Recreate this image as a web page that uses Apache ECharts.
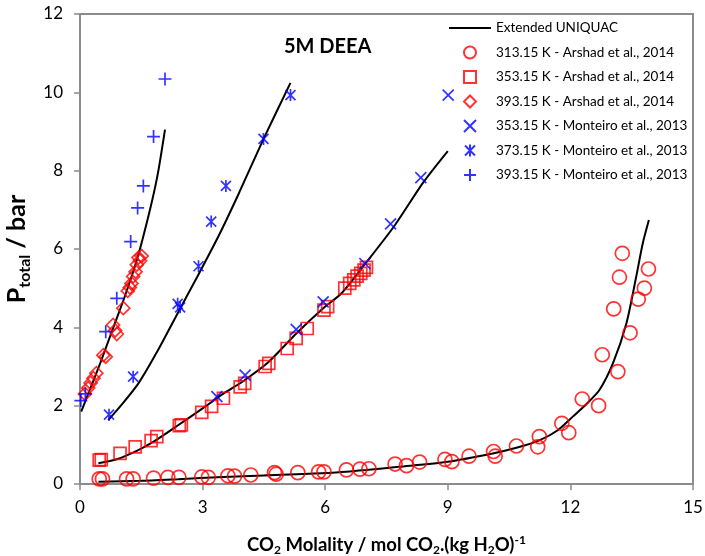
<!DOCTYPE html>
<html>
<head>
<meta charset="utf-8">
<script src="https://cdn.jsdelivr.net/npm/echarts@6/dist/echarts.min.js"></script>
<style>html,body{margin:0;padding:0;background:#fff;}#c{width:705px;height:556px;}</style>
</head>
<body>
<div id="c"></div>
<script>
// ---- Data (x: CO2 molality, y: P total / bar) ----
const xTicks = [0, 3, 6, 9, 12, 15];
const yTicks = [0, 2, 4, 6, 8, 10, 12];

// Extended UNIQUAC model curves
const model313 = [[0.45,0.06],[1.5,0.08],[2.4,0.12],[3.5,0.18],[4.5,0.22],[6.0,0.28],[7.0,0.36],[7.8,0.44],[9.0,0.57],[10.1,0.78],[10.7,0.93],[11.25,1.12],[11.7,1.38],[12.06,1.72],[12.4,2.05],[12.71,2.4],[13.04,3.08],[13.37,4.1],[13.61,5.29],[13.77,6.14],[13.92,6.74]];
const model353 = [[0.45,0.53],[0.9,0.63],[1.4,0.85],[1.8,1.08],[2.4,1.5],[3.0,1.93],[3.5,2.3],[4.0,2.63],[4.6,3.1],[5.3,3.85],[6.0,4.53],[6.4,4.87],[7.0,5.65],[7.7,6.6],[8.4,7.7],[9.0,8.5]];
const model373 = [[0.69,1.63],[1.0,2.0],[1.43,2.57],[1.9,3.4],[2.41,4.4],[2.9,5.35],[3.4,6.35],[3.9,7.45],[4.5,8.83],[5.15,10.24]];
const model393 = [[0.03,1.85],[0.2,2.3],[0.5,3.1],[0.8,3.95],[1.1,4.8],[1.4,5.75],[1.7,6.95],[1.9,7.9],[2.08,9.05]];

// Arshad et al., 2014
const arshad313 = [[0.47,0.13],[0.55,0.13],[1.14,0.13],[1.30,0.13],[1.80,0.15],[2.15,0.17],[2.42,0.17],[2.98,0.18],[3.14,0.17],[3.62,0.21],[3.78,0.20],[4.18,0.23],[4.76,0.29],[4.80,0.25],[5.33,0.29],[5.84,0.31],[5.97,0.31],[6.52,0.36],[6.85,0.38],[7.07,0.39],[7.71,0.51],[7.99,0.47],[8.31,0.56],[8.93,0.63],[9.10,0.57],[9.52,0.71],[10.12,0.83],[10.16,0.71],[10.68,0.97],[11.24,1.21],[11.20,0.95],[11.79,1.55],[11.96,1.31],[12.29,2.17],[12.69,2.00],[12.78,3.30],[13.16,2.87],[13.06,4.47],[13.46,3.86],[13.20,5.28],[13.27,5.89],[13.66,4.72],[13.81,5.00],[13.91,5.49]];
const arshad353 = [[0.47,0.61],[0.52,0.62],[0.98,0.78],[1.35,0.95],[1.74,1.11],[1.88,1.21],[2.43,1.49],[2.48,1.51],[2.98,1.83],[3.22,1.98],[3.51,2.19],[3.92,2.48],[4.03,2.57],[4.53,3.00],[4.62,3.08],[5.07,3.46],[5.29,3.72],[5.56,3.97],[5.97,4.44],[6.06,4.53],[6.48,5.00],[6.60,5.12],[6.70,5.21],[6.78,5.31],[6.87,5.38],[6.95,5.46],[7.01,5.53]];
const arshad393 = [[0.12,2.30],[0.20,2.45],[0.26,2.58],[0.33,2.70],[0.40,2.83],[0.57,3.29],[0.63,3.25],[0.81,4.06],[0.86,3.92],[0.90,3.83],[1.06,4.49],[1.17,4.93],[1.22,5.02],[1.26,5.12],[1.30,5.30],[1.36,5.42],[1.39,5.60],[1.43,5.78],[1.47,5.70],[1.51,5.82]];

// Monteiro et al., 2013
const monteiro353 = [[3.35,2.23],[4.04,2.78],[5.29,3.95],[5.95,4.65],[6.97,5.63],[7.60,6.64],[8.34,7.82],[9.01,9.93]];
const monteiro373 = [[0.71,1.77],[1.30,2.74],[2.39,4.60],[2.45,4.51],[2.90,5.56],[3.21,6.70],[3.57,7.61],[4.49,8.81],[5.15,9.93]];
const monteiro393 = [[0.02,2.13],[0.13,2.30],[0.63,3.89],[0.90,4.74],[1.24,6.19],[1.41,7.05],[1.55,7.61],[1.80,8.87],[2.08,10.34]];

const seriesNames = ['Extended UNIQUAC','313.15 K - Arshad et al., 2014','353.15 K - Arshad et al., 2014','393.15 K - Arshad et al., 2014','353.15 K - Monteiro et al., 2013','373.15 K - Monteiro et al., 2013','393.15 K - Monteiro et al., 2013'];

const FONT = 'Lato';
const RED = '#ff0000', BLUE = '#0000ff', GRAY = '#8c8c8c';
const SYM_SQUARE = 'path://M0,0L10,0L10,10L0,10Z';
const SYM_DIAMOND = 'path://M5,0L10,5L5,10L0,5Z';
const SYM_X = 'path://M0,0L10,10M0,10L10,0';
const SYM_PLUS = 'path://M5,0L5,10M0,5L10,5';
const SYM_STAR = 'path://M0,0L10,10M0,10L10,0M5,-1L5,11';
const SYM_LINE = 'path://M0,0L42,0L42,2L0,2Z';

function lineSeries(data) {
  return { name: seriesNames[0], type: 'line', data: data, symbol: 'none', smooth: 0.25, symbolKeepAspect: true,
    lineStyle: { color: '#000', width: 2 }, itemStyle: { color: '#000' }, z: 3, silent: true };
}
function scatter(name, data, symbol, size, color) {
  return { name: name, type: 'scatter', data: data, symbol: symbol, symbolSize: size, symbolKeepAspect: true,
    itemStyle: { color: 'rgba(0,0,0,0)', borderColor: color, borderWidth: 1.7 }, z: 4 };
}

const chart = echarts.init(document.getElementById('c'), null, { renderer: 'canvas' });
chart.setOption({
  animation: false,
  backgroundColor: '#fff',
  textStyle: { fontFamily: FONT },
  title: { text: '5M DEEA', left: 279, top: 32, textStyle: { fontFamily: FONT, fontWeight: 'bold', fontSize: 20, color: '#000' } },
  grid: { left: 80, right: 12, top: 14, bottom: 72, show: true, borderColor: GRAY, borderWidth: 2, backgroundColor: 'transparent', outerBoundsMode: 'none', containLabel: false },
  legend: {
    orient: 'vertical', left: 449, top: 21, padding: 0, itemWidth: 42, itemHeight: 12, itemGap: 10.5,
    textStyle: { fontFamily: FONT, fontSize: 13.5, color: '#000' },
    data: [{ name: seriesNames[0], icon: SYM_LINE, itemStyle: { color: '#000', borderWidth: 0 } }].concat(seriesNames.slice(1))
  },
  xAxis: {
    type: 'value', min: xTicks[0], max: xTicks[xTicks.length-1], interval: 3,
    name: '{b|CO}{s|2}{b| Molality / mol CO}{s|2}{b|.(kg H}{s|2}{b|O)}{p|-1}',
    nameLocation: 'middle', nameGap: 50,
    nameTextStyle: { rich: {
      b: { fontFamily: FONT, fontWeight: 'bold', fontSize: 18.5, color: '#000', height: 22, verticalAlign: 'middle' },
      s: { fontFamily: FONT, fontWeight: 'bold', fontSize: 12, color: '#000', padding: [10, 0, 0, 0], verticalAlign: 'middle' },
      p: { fontFamily: FONT, fontWeight: 'bold', fontSize: 12, color: '#000', padding: [0, 0, 10, 0], verticalAlign: 'middle' }
    } },
    axisLine: { lineStyle: { color: GRAY, width: 2 } },
    axisTick: { show: true, length: 6, lineStyle: { color: GRAY, width: 1.5 } },
    axisLabel: { fontFamily: FONT, fontSize: 17, color: '#000', margin: 15 },
    splitLine: { show: false }
  },
  yAxis: {
    type: 'value', min: yTicks[0], max: yTicks[yTicks.length-1], interval: 2,
    name: '{b|P}{s|total}{b| / bar}',
    nameLocation: 'middle', nameGap: 45, nameRotate: 90,
    nameTextStyle: { rich: {
      b: { fontFamily: FONT, fontWeight: 'bold', fontSize: 25, color: '#000', height: 30, verticalAlign: 'middle' },
      s: { fontFamily: FONT, fontWeight: 'bold', fontSize: 16, color: '#000', padding: [14, 0, 0, 0], verticalAlign: 'middle' }
    } },
    axisLine: { lineStyle: { color: GRAY, width: 2 } },
    axisTick: { show: true, length: 6, lineStyle: { color: GRAY, width: 1.5 } },
    axisLabel: { fontFamily: FONT, fontSize: 17, color: '#000', margin: 17 },
    splitLine: { show: false }
  },
  series: [
    lineSeries(model313), lineSeries(model353), lineSeries(model373), lineSeries(model393),
    scatter(seriesNames[1], arshad313, 'circle', 14, RED),
    scatter(seriesNames[2], arshad353, SYM_SQUARE, 12, RED),
    scatter(seriesNames[3], arshad393, SYM_DIAMOND, 13, RED),
    scatter(seriesNames[4], monteiro353, SYM_X, 11, BLUE),
    scatter(seriesNames[5], monteiro373, SYM_STAR, 12, BLUE),
    scatter(seriesNames[6], monteiro393, SYM_PLUS, 13, BLUE)
  ]
});
</script>
</body>
</html>
